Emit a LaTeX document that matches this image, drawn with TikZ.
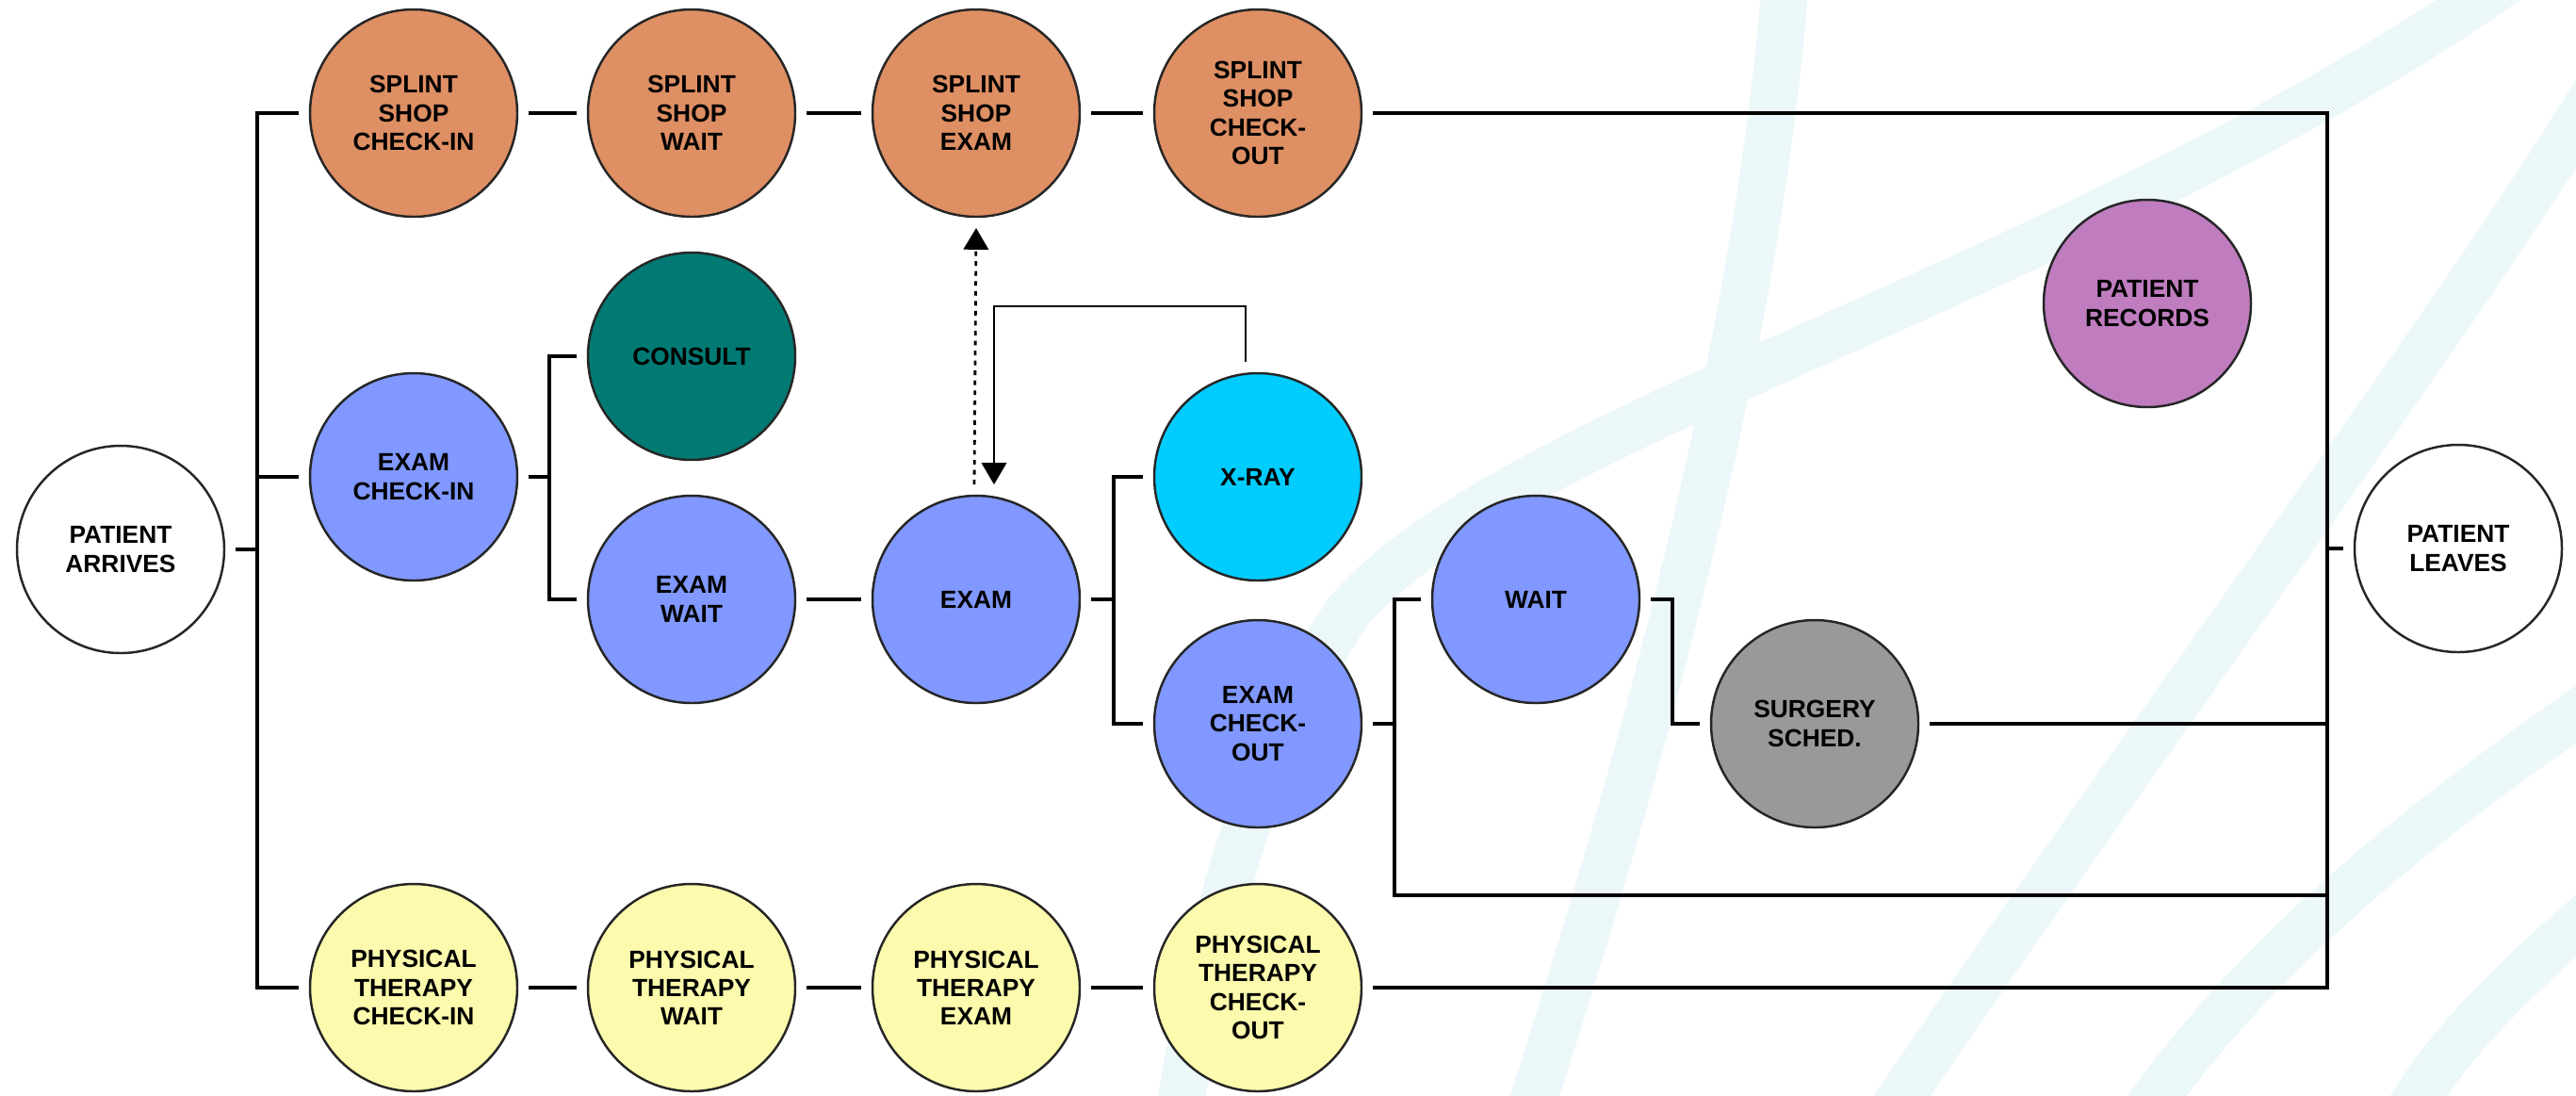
\documentclass[tikz,border=0pt]{standalone}
\usepackage{fontspec}
\setmainfont{Liberation Sans}
\usetikzlibrary{arrows.meta}
\definecolor{splint}{RGB}{222,143,99}
\definecolor{consult}{RGB}{0,122,115}
\definecolor{exam}{RGB}{128,152,255}
\definecolor{xray}{RGB}{0,204,255}
\definecolor{surgery}{RGB}{153,153,153}
\definecolor{records}{RGB}{191,125,191}
\definecolor{therapy}{RGB}{252,250,172}
\definecolor{swoosh}{RGB}{236,247,249}

\begin{document}
\begin{tikzpicture}[
  station/.style={circle,draw=black!85,line width=0.7pt,minimum size=2.2cm,inner sep=0pt,
    outer sep=3.4pt,align=center,font=\fontsize{7.5}{8.6}\selectfont\bfseries},
  link/.style={line width=1.4pt},
  recall/.style={line width=0.65pt,-{Triangle[width=7.5pt,length=6.5pt]}},
  referral/.style={line width=0.8pt,dash pattern=on 1.4pt off 1.6pt,-{Triangle[width=7.5pt,length=6.5pt]}},
  swoosh/.style={line width=0.5cm,color=swoosh}
]
  \useasboundingbox[fill=white] (0,0) rectangle (27.34,-11.62);
  \begin{scope}
    \clip (0,0) rectangle (27.34,-11.62);
    \draw[swoosh] (18.95,0.2) .. controls (18.7,-3) and (17.8,-7) .. (16.2,-11.9);
    \draw[swoosh] (26.6,0.2) .. controls (22,-3) and (16,-4.5) .. (14.3,-6.5)
                  .. controls (13.3,-8) and (12.8,-10) .. (12.5,-11.9);
    \draw[swoosh] (27.6,-0.9) .. controls (26,-3.5) and (23,-7.5) .. (20.0,-11.9);
    \draw[swoosh] (27.6,-7.4) .. controls (26,-8.5) and (24,-10) .. (22.7,-11.9);
    \draw[swoosh] (27.6,-9.6) .. controls (26.9,-10.2) and (26,-11) .. (25.5,-11.9);
  \end{scope}

  \draw (1.28,-5.83) node[station,fill=white] (arrives) {PATIENT\\ARRIVES}
        (4.39,-1.20) node[station,fill=splint] (shopin) {SPLINT\\SHOP\\CHECK-IN}
        (7.34,-1.20) node[station,fill=splint] (shopwait) {SPLINT\\SHOP\\WAIT}
        (10.36,-1.20) node[station,fill=splint] (shopexam) {SPLINT\\SHOP\\EXAM}
        (13.35,-1.20) node[station,fill=splint] (shopout) {SPLINT\\SHOP\\CHECK-\\OUT}
        (7.34,-3.78) node[station,fill=consult] (consult) {CONSULT}
        (4.39,-5.06) node[station,fill=exam] (examin) {EXAM\\CHECK-IN}
        (7.34,-6.36) node[station,fill=exam] (examwait) {EXAM\\WAIT}
        (10.36,-6.36) node[station,fill=exam] (exam) {EXAM}
        (13.35,-5.06) node[station,fill=xray] (xray) {X-RAY}
        (13.35,-7.68) node[station,fill=exam] (examout) {EXAM\\CHECK-\\OUT}
        (16.30,-6.36) node[station,fill=exam] (wait) {WAIT}
        (19.26,-7.68) node[station,fill=surgery] (surgery) {SURGERY\\SCHED.}
        (22.79,-3.22) node[station,fill=records] (records) {PATIENT\\RECORDS}
        (26.09,-5.82) node[station,fill=white] (leaves) {PATIENT\\LEAVES}
        (4.39,-10.48) node[station,fill=therapy] (ptin) {PHYSICAL\\THERAPY\\CHECK-IN}
        (7.34,-10.48) node[station,fill=therapy] (ptwait) {PHYSICAL\\THERAPY\\WAIT}
        (10.36,-10.48) node[station,fill=therapy] (ptexam) {PHYSICAL\\THERAPY\\EXAM}
        (13.35,-10.48) node[station,fill=therapy] (ptout) {PHYSICAL\\THERAPY\\CHECK-\\OUT};

  \coordinate (inbus) at (2.73,0);
  \coordinate (branchA) at (5.83,0);
  \coordinate (branchB) at (11.82,0);
  \coordinate (branchC) at (14.80,-9.50);
  \coordinate (branchD) at (17.75,0);
  \coordinate (outbus) at (24.70,0);
  \coordinate (looptop) at (10.55,-3.25);

  \draw[link] (arrives.east) -- (arrives -| inbus);
  \draw[link] (shopin.west) -| (inbus |- ptin) -- (ptin.west);
  \draw[link] (examin.west) -- (examin -| inbus);
  \draw[link] (shopin) -- (shopwait);
  \draw[link] (shopwait) -- (shopexam);
  \draw[link] (shopexam) -- (shopout);
  \draw[link] (ptin) -- (ptwait);
  \draw[link] (ptwait) -- (ptexam);
  \draw[link] (ptexam) -- (ptout);
  \draw[link] (examin.east) -- (examin -| branchA);
  \draw[link] (consult.west) -| (branchA |- examwait) -- (examwait.west);
  \draw[link] (examwait) -- (exam);
  \draw[link] (exam.east) -- (exam -| branchB);
  \draw[link] (xray.west) -| (branchB |- examout) -- (examout.west);
  \draw[link] (examout.east) -- (examout -| branchC);
  \draw[link] (wait.west) -| (branchC) -- (branchC -| outbus);
  \draw[link] (wait.east) -- (wait -| branchD) |- (surgery.west);
  \draw[link] (surgery.east) -- (surgery -| outbus);
  \draw[link] (shopout.east) -| (outbus |- ptout) -- (ptout.east);
  \draw[link] (leaves.west) -- (leaves -| outbus);
  \draw[recall] ([xshift=-1.3mm]xray.north) |- (looptop) -- (looptop |- exam.north);
  \draw[referral] ([xshift=-0.2mm]exam.north) -- (shopexam.south);
\end{tikzpicture}
\end{document}
